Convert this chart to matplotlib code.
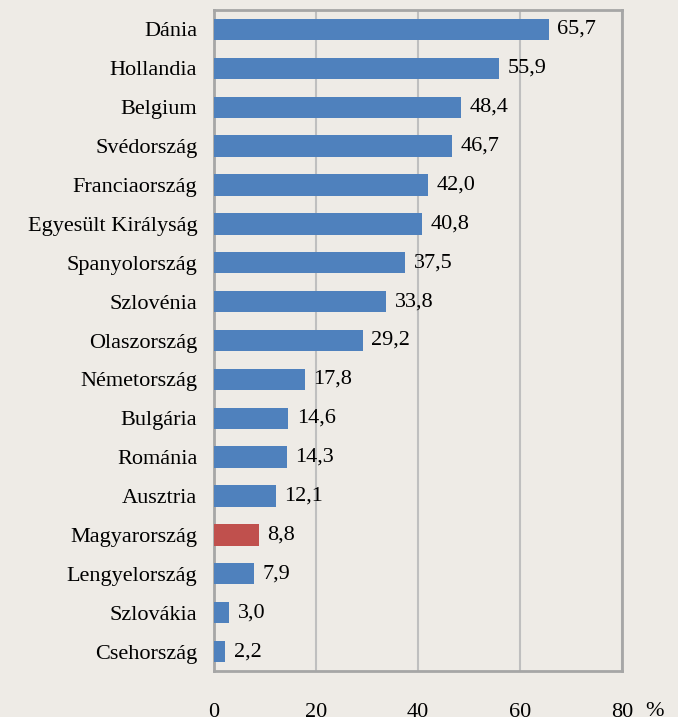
import matplotlib.pyplot as plt

countries = ["Dánia", "Hollandia", "Belgium", "Svédország", "Franciaország",
             "Egyesült Királyság", "Spanyolország", "Szlovénia", "Olaszország",
             "Németország", "Bulgária", "Románia", "Ausztria", "Magyarország",
             "Lengyelország", "Szlovákia", "Csehország"]
values = [65.7, 55.9, 48.4, 46.7, 42.0, 40.8, 37.5, 33.8, 29.2,
          17.8, 14.6, 14.3, 12.1, 8.8, 7.9, 3.0, 2.2]
xticks = [0, 20, 40, 60, 80]

bg = "#EEEBE6"
colors = ["#C0504D" if c == "Magyarország" else "#4F81BD" for c in countries]

plt.rcParams['font.family'] = ['Liberation Serif', 'DejaVu Serif']
fs = 16

fig = plt.figure(figsize=(6.78, 7.17), dpi=100, facecolor=bg)
ax = fig.add_axes([214/678, 46/717, 408/678, 661/717])
ax.set_facecolor(bg)

bars = ax.barh(range(len(countries)), values, height=0.55, color=colors, zorder=3)
labels = [f"{v:.1f}".replace(".", ",") for v in values]
ax.bar_label(bars, labels=labels, padding=6, fontsize=fs, color="black")

ax.set_ylim(len(countries) - 0.5, -0.5)
ax.set_xlim(0, 80)
ax.set_yticks(range(len(countries)))
ax.set_yticklabels(countries, fontsize=fs)
ax.set_xticks(xticks)
ax.set_xticklabels([str(t) for t in xticks], fontsize=fs)
ax.tick_params(axis="y", length=0, pad=12)
ax.tick_params(axis="x", length=0, pad=23)
ax.grid(axis="x", color="#BFBFBF", linewidth=1.5, zorder=0)
for s in ax.spines.values():
    s.set_color("#A6A6A6")
    s.set_linewidth(2)

fig.text(655/678, 1 - 712/717, "%", fontsize=fs, ha="center", va="center")

fig.savefig("out.png", dpi=100, facecolor=bg)
